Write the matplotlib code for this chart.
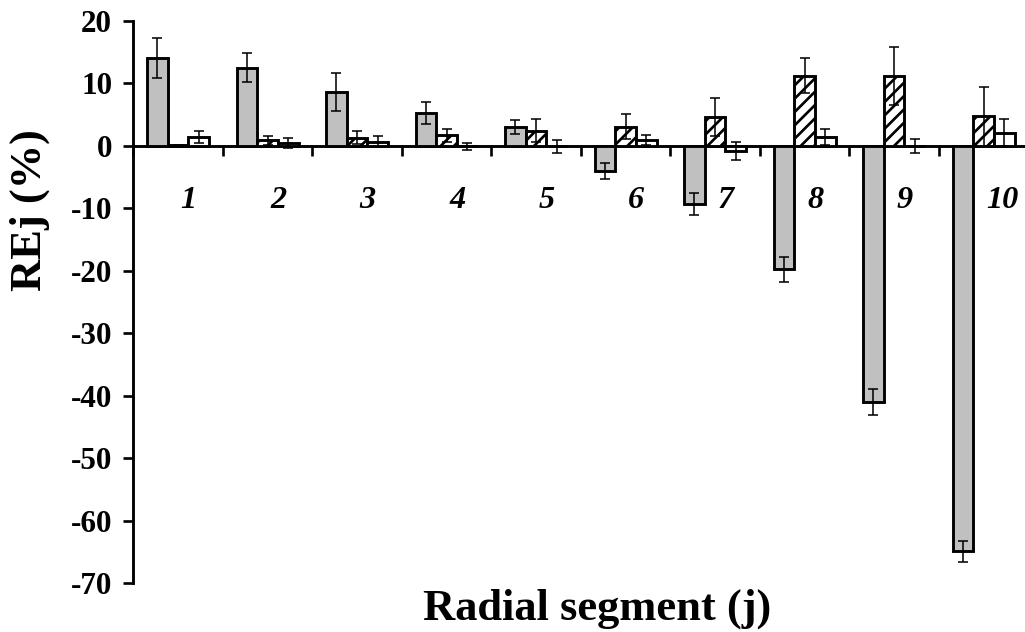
import numpy as np
import matplotlib
matplotlib.use("Agg")
import matplotlib.pyplot as plt

# values (REj in %), three series per radial segment
segments = ["1", "2", "3", "4", "5", "6", "7", "8", "9", "10"]
gray_vals = [14.0, 12.5, 8.6, 5.2, 3.05, -4.05, -9.3, -19.8, -40.95, -64.9]
gray_err = [3.2, 2.3, 3.1, 1.8, 1.1, 1.25, 1.8, 2.0, 2.1, 1.7]
hatch_vals = [0.05, 0.85, 1.3, 1.65, 2.4, 3.0, 4.65, 11.2, 11.15, 4.7]
hatch_err = [0.1, 0.7, 1.0, 1.05, 1.85, 2.0, 3.05, 2.8, 4.7, 4.75]
white_vals = [1.4, 0.4, 0.65, -0.1, -0.1, 0.97, -0.85, 1.45, 0.0, 2.1]
white_err = [0.9, 0.8, 0.9, 0.6, 1.05, 0.8, 1.4, 1.3, 1.1, 2.1]
yticks = [-70, -60, -50, -40, -30, -20, -10, 0, 10, 20]

DPI = 80
plt.rcParams["font.family"] = ["Liberation Serif", "DejaVu Serif"]
plt.rcParams["font.weight"] = "bold"
plt.rcParams["axes.unicode_minus"] = False
plt.rcParams["hatch.linewidth"] = 2.4
plt.rcParams["hatch.color"] = "black"

fig = plt.figure(figsize=(1025 / DPI, 632 / DPI), dpi=DPI)
ax = fig.add_axes([133.3 / 1025, 48.7 / 632, 895 / 1025, 562.6 / 632])

x = np.arange(len(segments))
w = 0.231
ekw = dict(elinewidth=1.4, capsize=4.5, capthick=1.4, ecolor="black", zorder=5)
bar_kw = dict(edgecolor="black", linewidth=2.6, zorder=3, error_kw=ekw)

ax.bar(x - w, gray_vals, w, yerr=gray_err, color="#c0c0c0", **bar_kw)
ax.bar(x, hatch_vals, w, yerr=hatch_err, color="white", hatch="//", **bar_kw)
ax.bar(x + w, white_vals, w, yerr=white_err, color="white", **bar_kw)

ax.set_xlim(-0.5, len(segments) - 0.5)
ax.set_ylim(-70, 20)
ax.set_yticks(yticks)
ax.set_xticks(np.arange(-0.5, len(segments), 1.0))
ax.set_xticklabels([])

for side in ("top", "right"):
    ax.spines[side].set_visible(False)
ax.spines["bottom"].set_position(("data", 0))
for side in ("left", "bottom"):
    ax.spines[side].set_linewidth(2.6)

ax.tick_params(axis="y", direction="out", length=9, width=2.4, pad=10, labelsize=28)
ax.tick_params(axis="x", direction="out", length=9, width=2.4)

# category labels sit below the zero line, in bold italic
for i, lab in enumerate(segments):
    ax.text(x[i] + 0.03, -10.0, lab, ha="left", va="baseline",
            fontsize=29, style="italic", weight="bold")

fig.text(597 / 1025, (632 - 620) / 632, "Radial segment (j)", ha="center",
         va="baseline", fontsize=40, weight="bold")
fig.text(30 / 1025, (632 - 210) / 632, "REj (%)", ha="center", va="center",
         rotation=90, fontsize=40, weight="bold")

fig.savefig("out.png", dpi=DPI)
